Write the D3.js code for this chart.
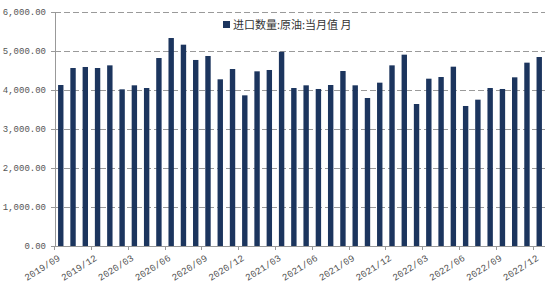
<!DOCTYPE html>
<html>
<head>
<meta charset="utf-8">
<script src="https://d3js.org/d3.v7.min.js"></script>
<style>
  body { margin: 0; background: #fff; }
  svg text { fill: #555; }
</style>
</head>
<body>
<svg id="chart" width="550" height="286"></svg>
<script>
// monthly crude oil imports, 2019/09 .. 2022/12
const months = [];
for (let y = 2019, m = 9; y < 2023; ) {
  months.push(y + "/" + String(m).padStart(2, "0"));
  m++;
  if (m > 12) { m = 1; y++; }
}
const values = [
  4128, 4564, 4590, 4564, 4632, 4017, 4120, 4051, 4820, 5333,
  5162, 4770, 4872, 4274, 4538, 3863, 4479, 4513, 4980, 4051,
  4120, 4026, 4128, 4487, 4120, 3795, 4188, 4632, 4906, 3641,
  4290, 4333, 4598, 3590, 3752, 4051, 4026, 4325, 4701, 4846
];
const yTicks = [0, 1000, 2000, 3000, 4000, 5000, 6000];
const legendLabel = "进口数量:原油:当月值 月";

const svg = d3.select("#chart");
const margin = { top: 12, right: 5, bottom: 40, left: 55 };
const width = 550 - margin.left - margin.right,
  height = 286 - margin.top - margin.bottom;

const x = d3.scaleBand().domain(months).range([0, width]).paddingInner(0.56).paddingOuter(0.25);
const y = d3.scaleLinear().domain([0, 6000]).range([height, 0]);

const g = svg.append("g").attr("transform", `translate(${margin.left},${margin.top})`);

// gridlines
g.append("g")
  .selectAll("line")
  .data(yTicks.filter((d) => d > 0))
  .join("line")
  .attr("x1", 0)
  .attr("x2", width)
  .attr("y1", (d) => y(d))
  .attr("y2", (d) => y(d))
  .attr("stroke", "#9a9a9a")
  .attr("stroke-width", 1)
  .attr("stroke-dasharray", "6,3")
  .attr("shape-rendering", "crispEdges");

// bars
g.append("g")
  .selectAll("rect")
  .data(values)
  .join("rect")
  .attr("x", (d, i) => x(months[i]))
  .attr("y", (d) => y(d))
  .attr("width", x.bandwidth())
  .attr("height", (d) => y(0) - y(d))
  .attr("fill", "#1c355e");

// y axis
const yAxis = g.append("g")
  .call(d3.axisLeft(y).tickValues(yTicks).tickSize(4).tickFormat(d3.format(",.2f")));
yAxis.select(".domain").attr("stroke", "#999");
yAxis.selectAll(".tick line").attr("stroke", "#999");
yAxis.selectAll("text")
  .attr("x", -9)
  .style("font-family", "'Liberation Mono', 'DejaVu Sans Mono', monospace")
  .style("font-size", "9px")
  .style("fill", "#555");

// x axis: ticks every 3 months at band edges
const labelled = months.filter((d, i) => i % 3 === 0);
const step = x.step();
const xAxis = g.append("g").attr("transform", `translate(0,${height})`);
xAxis.append("line")
  .attr("x1", 0).attr("x2", width)
  .attr("stroke", "#999")
  .attr("shape-rendering", "crispEdges");
xAxis.selectAll(".tk")
  .data(labelled)
  .join("line")
  .attr("class", "tk")
  .attr("x1", (d) => x(d) - step * 0.28)
  .attr("x2", (d) => x(d) - step * 0.28)
  .attr("y1", 0).attr("y2", 4)
  .attr("stroke", "#999")
  .attr("shape-rendering", "crispEdges");
xAxis.selectAll(".lbl")
  .data(labelled)
  .join("text")
  .attr("class", "lbl")
  .attr("text-anchor", "end")
  .attr("transform", (d) => `translate(${x(d) + 1},${11}) rotate(-32)`)
  .attr("dy", "0.35em")
  .style("font-family", "'Liberation Mono', 'DejaVu Sans Mono', monospace")
  .style("font-size", "9.5px")
  .style("fill", "#555")
  .text((d) => d);

// legend
const legend = svg.append("g").attr("transform", "translate(223,21)");
legend.append("rect").attr("width", 7).attr("height", 7).attr("fill", "#1c355e");
legend.append("text")
  .attr("x", 10)
  .attr("y", 4)
  .attr("dy", "0.35em")
  .style("font-family", "'Noto Sans CJK SC', sans-serif")
  .style("font-size", "11px")
  .style("fill", "#333")
  .text(legendLabel);
</script>
</body>
</html>
